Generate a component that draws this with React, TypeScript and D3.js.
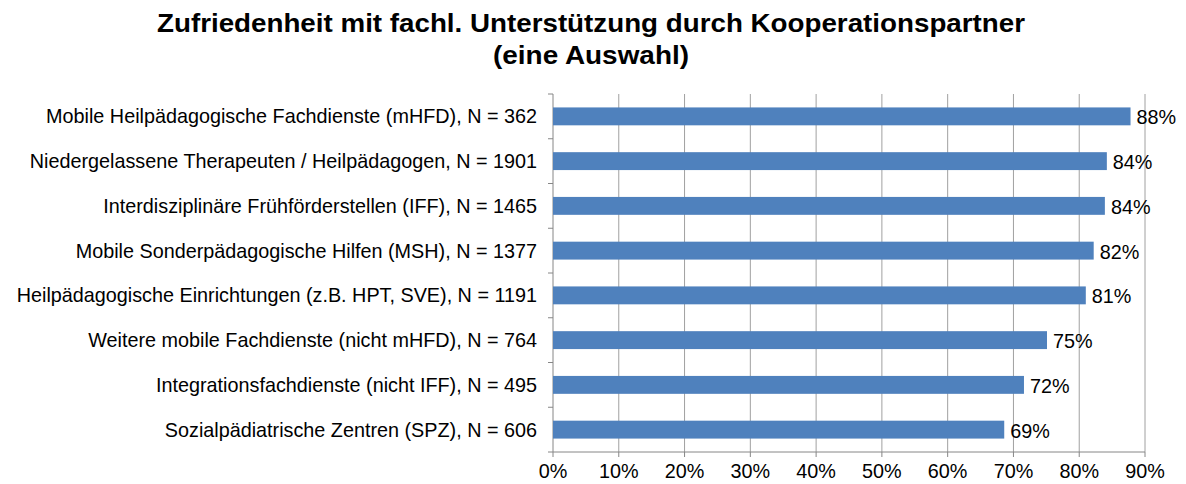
import React from "react";
import * as d3 from "d3";

const categories = [
  "Mobile Heilpädagogische Fachdienste (mHFD), N = 362",
  "Niedergelassene Therapeuten / Heilpädagogen, N = 1901",
  "Interdisziplinäre Frühförderstellen (IFF), N = 1465",
  "Mobile Sonderpädagogische Hilfen (MSH), N = 1377",
  "Heilpädagogische Einrichtungen (z.B. HPT, SVE), N = 1191",
  "Weitere mobile Fachdienste (nicht mHFD), N = 764",
  "Integrationsfachdienste (nicht IFF), N = 495",
  "Sozialpädiatrische Zentren (SPZ), N = 606",
];
const values = [0.878, 0.842, 0.839, 0.822, 0.81, 0.751, 0.716, 0.686];
const xTicks = [0, 0.1, 0.2, 0.3, 0.4, 0.5, 0.6, 0.7, 0.8, 0.9];
const titleLines = [
  "Zufriedenheit mit fachl. Unterstützung durch Kooperationspartner",
  "(eine Auswahl)",
];

export default function App() {
  const W = 1186, H = 484;
  const left = 553, right = 1145, top = 94, bottom = 452;
  const x = d3.scaleLinear().domain([0, 0.9]).range([left, right]);
  const y = d3.scaleBand<string>().domain(categories).range([top, bottom]).paddingInner(0.6).paddingOuter(0.3);
  const step = y.step();
  const font = "'Liberation Sans', Arial, sans-serif";
  const fmt = d3.format(".0%");
  const titleWidths = [868, 196];
  return (
    <svg width={W} height={H} style={{ position: "absolute", left: 0, top: 0, background: "#fff" }}>
      {titleLines.map((t, i) => (
        <text key={i} x={591} y={32 + i * 32} textAnchor="middle" fontFamily={font} fontWeight="bold" fontSize={25.5} fill="#000"
          textLength={titleWidths[i]} lengthAdjust="spacingAndGlyphs">
          {t}
        </text>
      ))}
      {xTicks.map((t) => (
        <g key={t}>
          {t > 0 && <line x1={x(t)} x2={x(t)} y1={top} y2={bottom} stroke="#a0a0a0" strokeWidth={1} />}
          <line x1={x(t)} x2={x(t)} y1={bottom} y2={bottom + 5} stroke="#868686" />
          <text x={x(t)} y={bottom + 26} textAnchor="middle" fontFamily={font} fontSize={19.8} fill="#000">
            {fmt(t)}
          </text>
        </g>
      ))}
      <line x1={left} x2={left} y1={top} y2={bottom} stroke="#868686" />
      <line x1={left} x2={right} y1={bottom} y2={bottom} stroke="#868686" />
      {d3.range(categories.length + 1).map((i) => (
        <line key={i} x1={left - 5} x2={left} y1={top + i * step} y2={top + i * step} stroke="#868686" />
      ))}
      {categories.map((c, i) => (
        <g key={c}>
          <rect x={x(0)} y={y(c)!} width={x(values[i]) - x(0)} height={y.bandwidth()} fill="#4F81BD" />
          <text x={left - 16} y={y(c)! + y.bandwidth() / 2 + 7} textAnchor="end" fontFamily={font} fontSize={19.8} fill="#000">
            {c}
          </text>
          <text x={x(values[i]) + 6} y={y(c)! + y.bandwidth() / 2 + 8} fontFamily={font} fontSize={19.8} fill="#000">
            {fmt(values[i])}
          </text>
        </g>
      ))}
    </svg>
  );
}
